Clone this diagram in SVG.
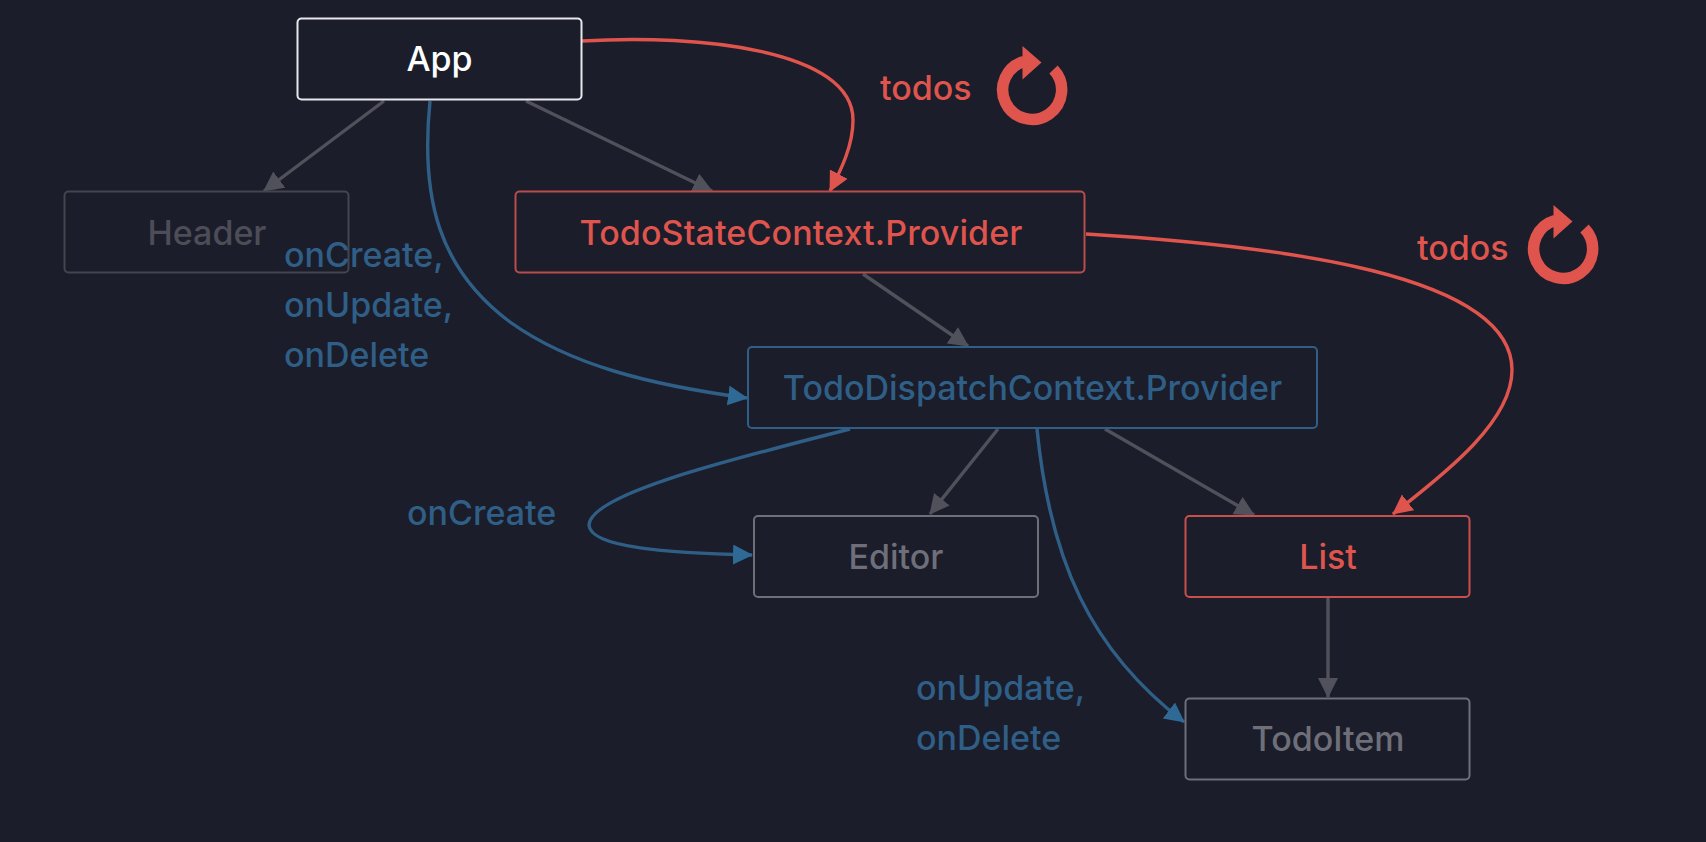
<svg xmlns="http://www.w3.org/2000/svg" width="1706" height="842" viewBox="0 0 1706 842">
  <style>
    text { font-family: Inter, "Liberation Sans", sans-serif; font-size: 34px; font-weight: 500; }
    .box { fill: #1b1d2a; stroke-width: 2; }
    .name { text-anchor: middle; }
    .link { fill: none; stroke-width: 3.4; }
    .plain { stroke: #50515b; }
    .state { stroke: #df544d; }
    .dispatch { stroke: #2f5f87; }
    .t-state { fill: #df544d; }
    .t-dispatch { fill: #2f5f87; }
  </style>
  <defs>
    <marker id="arrow-plain" markerUnits="userSpaceOnUse" markerWidth="22" markerHeight="22" refX="19" refY="10" orient="auto"><path d="M0 0L20 10L0 20Z" fill="#50515b"/></marker>
    <marker id="arrow-state" markerUnits="userSpaceOnUse" markerWidth="22" markerHeight="22" refX="19" refY="10" orient="auto"><path d="M0 0L20 10L0 20Z" fill="#df544d"/></marker>
    <marker id="arrow-dispatch" markerUnits="userSpaceOnUse" markerWidth="22" markerHeight="22" refX="19" refY="10" orient="auto"><path d="M0 0L20 10L0 20Z" fill="#2f6a96"/></marker>
    <g id="refresh">
      <path d="M21.500 -20.500A29.500 29.500 0 1 1 -8 -28.500" fill="none" stroke="#df544d" stroke-width="11.500"/>
      <path d="M-9.500 -44L9.500 -27.500L-9.500 -10.500Z" fill="#df544d"/>
    </g>
  </defs>
  <rect width="1706" height="842" fill="#1b1d2a"/>

  <g id="connectors">
    <path class="link plain" marker-end="url(#arrow-plain)" d="M384 101L264 191"/>
    <path class="link plain" marker-end="url(#arrow-plain)" d="M526 101L712 191"/>
    <path class="link plain" marker-end="url(#arrow-plain)" d="M863 274L968 346"/>
    <path class="link plain" marker-end="url(#arrow-plain)" d="M998 429L930 514"/>
    <path class="link plain" marker-end="url(#arrow-plain)" d="M1105 429L1254 515"/>
    <path class="link plain" marker-end="url(#arrow-plain)" d="M1328 598L1328 697"/>
    <path class="link state" marker-end="url(#arrow-state)" d="M582 41C700 34 853 50 853 120C853 145 842 168 830 191"/>
    <path class="link state" marker-end="url(#arrow-state)" d="M1086 234C1280 246 1512 274 1512 370C1512 420 1450 470 1393 514"/>
    <path class="link dispatch" marker-end="url(#arrow-dispatch)" d="M430 101C420 200 440 270 510 322C570 365 650 385 747 398"/>
    <path class="link dispatch" marker-end="url(#arrow-dispatch)" d="M850 429C720 462 590 495 589 525C590 548 670 553 752 555"/>
    <path class="link dispatch" marker-end="url(#arrow-dispatch)" d="M1037 429C1050 560 1090 650 1184 722"/>
  </g>

  <g id="app"><rect class="box" x="297.500" y="18.500" width="284" height="81" rx="4" stroke="#e8e8ec"/><text class="name" x="439.500" y="71" fill="#ffffff">App</text></g>
  <g id="header"><rect class="box" x="64.500" y="191.500" width="284" height="81" rx="4" stroke="#44454f"/><text class="name" x="207" y="245" fill="#4c4d57">Header</text></g>
  <g id="todo-state-provider"><rect class="box" x="515.500" y="191.500" width="569" height="81" rx="4" stroke="#b84e4c"/><text class="name t-state" x="801" y="245" textLength="443" lengthAdjust="spacing">TodoStateContext.Provider</text></g>
  <g id="todo-dispatch-provider"><rect class="box" x="748" y="347" width="569" height="81" rx="4" stroke="#2f5f87"/><text class="name t-dispatch" x="1032.500" y="400">TodoDispatchContext.Provider</text></g>
  <g id="editor"><rect class="box" x="754" y="516" width="284" height="81" rx="4" stroke="#6f6f7a"/><text class="name" x="896" y="569" fill="#6f6f7a">Editor</text></g>
  <g id="list"><rect class="box" x="1185.500" y="516" width="284" height="81" rx="4" stroke="#c94f4c"/><text class="name t-state" x="1328" y="569">List</text></g>
  <g id="todo-item"><rect class="box" x="1185.500" y="698.500" width="284" height="81" rx="4" stroke="#6f6f7a"/><text class="name" x="1328" y="751" fill="#6f6f7a">TodoItem</text></g>

  <g id="labels">
    <text class="t-dispatch" x="284" y="267">onCreate,</text>
    <text class="t-dispatch" x="284" y="317">onUpdate,</text>
    <text class="t-dispatch" x="284" y="367">onDelete</text>
    <text class="t-dispatch" x="407" y="525">onCreate</text>
    <text class="t-dispatch" x="916" y="700">onUpdate,</text>
    <text class="t-dispatch" x="916" y="750">onDelete</text>
    <text class="t-state" x="880" y="100">todos</text>
    <text class="t-state" x="1417" y="260">todos</text>
  </g>

  <use id="refresh-app" href="#refresh" x="1032" y="90"/>
  <use id="refresh-state" href="#refresh" x="1563" y="249"/>
</svg>
